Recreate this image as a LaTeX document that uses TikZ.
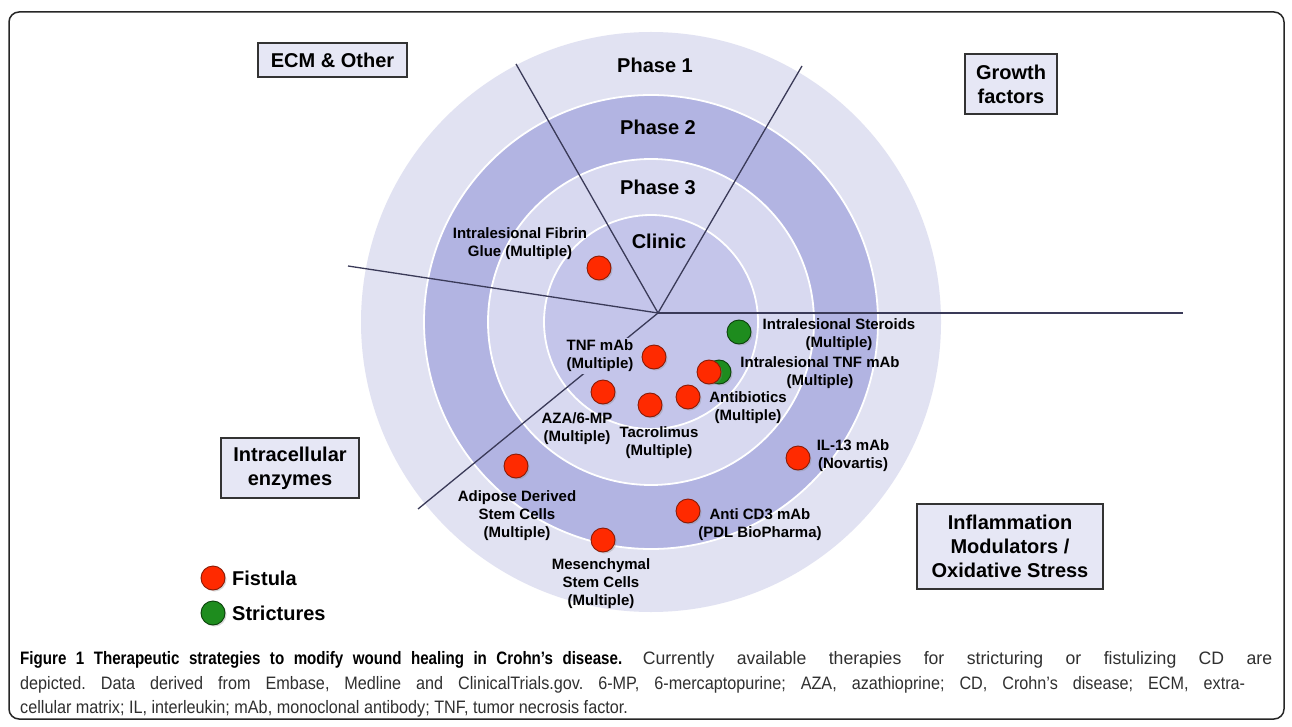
\documentclass[tikz,border=0pt]{standalone}
\usepackage{fontspec}
\setmainfont{Liberation Sans}
\newfontfamily\capfont[FakeStretch=0.9]{Liberation Sans}
\newfontfamily\capwide[FakeStretch=0.98]{Liberation Sans}
\newfontfamily\capbold[FakeStretch=0.84]{Liberation Sans Bold}
\usetikzlibrary{shadows}
\definecolor{ringA}{HTML}{E1E2F2}
\definecolor{ringB}{HTML}{B2B4E2}
\definecolor{ringC}{HTML}{D8D9F0}
\definecolor{ringD}{HTML}{C4C5EA}
\definecolor{boxfill}{HTML}{E6E7F5}
\definecolor{dotred}{HTML}{FF2A00}
\definecolor{dotredb}{HTML}{8A1A05}
\definecolor{dotgreen}{HTML}{1E8C1E}
\definecolor{dotgreenb}{HTML}{0B420B}
\definecolor{spoke}{HTML}{3A3A58}
\definecolor{captxt}{HTML}{303030}
\frenchspacing
\tikzset{
  lbl/.style={align=center, inner sep=1pt, font=\bfseries\fontsize{15}{18}\selectfont},
  phase/.style={inner sep=0, font=\bfseries\fontsize{20}{24}\selectfont},
  catbox/.style={draw=black!80, line width=1.2pt, fill=boxfill, align=center, inner sep=0,
    font=\bfseries\fontsize{20}{24}\selectfont},
  fist/.style={circle, minimum size=24pt, inner sep=0, fill=dotred, draw=dotredb, line width=0.9pt,
    drop shadow={opacity=0.3, shadow xshift=1.5pt, shadow yshift=-1.5pt}},
  strict/.style={circle, minimum size=24pt, inner sep=0, fill=dotgreen, draw=dotgreenb, line width=0.9pt,
    drop shadow={opacity=0.3, shadow xshift=1.5pt, shadow yshift=-1.5pt}},
  spk/.style={draw=spoke, line width=1.3pt},
  capline/.style={anchor=base west, inner sep=0, font=\capfont\fontsize{18}{20}\selectfont\frenchspacing, text=captxt}
}
\begin{document}
\begin{tikzpicture}[x=1pt,y=-1pt]
\useasboundingbox (0,0) rectangle (1292,727);
\fill[white] (0,0) rectangle (1292,727);
\draw[line width=1.5pt, rounded corners=10pt, draw=black!85] (9,12) rectangle (1284,719);

% rings
\coordinate (c) at (651,322);
\fill[ringA] (c) circle[radius=290pt];
\filldraw[fill=ringB, draw=white, line width=1.8pt] (c) circle[radius=227pt];
\filldraw[fill=ringC, draw=white, line width=1.8pt] (c) circle[radius=163pt];
\filldraw[fill=ringD, draw=white, line width=1.8pt] (c) circle[radius=107pt];

% spokes
\coordinate (o) at (658,313);
\coordinate (s1) at (516,64);
\coordinate (s2) at (802,66);
\coordinate (s3) at (348,266);
\coordinate (s4) at (1183,313);
\coordinate (s5) at (418,509);
\draw[spk] (o) -- (s1);
\draw[spk] (o) -- (s2);
\draw[spk] (o) -- (s3);
\draw[spk] (o) -- (s4);
\draw[spk] (o) -- (s5);

% phase labels
\node[phase] (p1) at (655,65) {Phase 1};
\node[phase] (p2) at (658,127) {Phase 2};
\node[phase] (p3) at (658,187) {Phase 3};
\node[phase] (pc) at (659,241) {Clinic};

% category boxes
\node[catbox, minimum width=149pt, minimum height=34pt] (ecm) at (332.5,60) {ECM \& Other};
\node[catbox, minimum width=92pt, minimum height=60pt] (growth) at (1011,84) {Growth\\factors};
\node[catbox, minimum width=138pt, minimum height=60pt] (intra) at (290,468) {Intracellular\\enzymes};
\node[catbox, minimum width=186pt, minimum height=85pt] (infl) at (1010,546.5) {Inflammation\\Modulators /\\Oxidative Stress};

% therapy labels
\node[lbl] (lfib) at (520,243.5) {Intralesional Fibrin\\Glue (Multiple)};
\node[lbl] (lster) at (839,335) {Intralesional Steroids\\(Multiple)};
\node[lbl] (litnf) at (820,372.5) {Intralesional TNF mAb\\(Multiple)};
\node[lbl, fill=ringD, inner sep=2pt] (ltnf) at (600,356) {TNF mAb\\(Multiple)};
\node[lbl] (labx) at (748,408) {Antibiotics\\(Multiple)};
\node[lbl] (laza) at (577,429) {AZA/6-MP\\(Multiple)};
\node[lbl] (ltac) at (659,442.5) {Tacrolimus\\(Multiple)};
\node[lbl] (lil) at (853,455.5) {IL-13 mAb\\(Novartis)};
\node[lbl] (ladi) at (517,516) {Adipose Derived\\Stem Cells\\(Multiple)};
\node[lbl] (lcd3) at (760,525) {Anti CD3 mAb\\(PDL BioPharma)};
\node[lbl] (lmes) at (601,583.5) {Mesenchymal\\Stem Cells\\(Multiple)};

% dots
\node[fist] (dfib) at (599,268) {};
\node[strict] (dster) at (739,332) {};
\node[strict] (ditnfg) at (719,372) {};
\node[fist] (ditnf) at (709,372) {};
\node[fist] (dtnf) at (654,357) {};
\node[fist] (daza) at (603,392) {};
\node[fist] (dtac) at (650,405) {};
\node[fist] (dabx) at (688,397) {};
\node[fist] (dil) at (798,458) {};
\node[fist] (dadi) at (516,466) {};
\node[fist] (dcd3) at (688,511) {};
\node[fist] (dmes) at (603,540) {};

% legend
\node[fist] (legr) at (213,578) {};
\node[strict] (legg) at (213,613) {};
\node[anchor=west, inner sep=0, font=\bfseries\fontsize{20}{24}\selectfont] (legrt) at (232,578) {Fistula};
\node[anchor=west, inner sep=0, font=\bfseries\fontsize{20}{24}\selectfont] (leggt) at (232,613) {Strictures};

% caption
\node[capline] (cap1) at (20,664) {\makebox[1252pt][s]{\makebox[602pt][s]{\capbold\textcolor{black}{Figure 1 Therapeutic strategies to modify wound healing in Crohn’s disease.}} \capwide Currently available therapies for stricturing or fistulizing CD are}};
\node[capline] (cap2) at (20,689) {\makebox[1225pt][s]{depicted. Data derived from Embase, Medline and ClinicalTrials.gov. 6-MP, 6-mercaptopurine; AZA, azathioprine; CD, Crohn’s disease; ECM, extra-}};
\node[capline] (cap3) at (20,713) {cellular matrix; IL, interleukin; mAb, monoclonal antibody; TNF, tumor necrosis factor.};
\end{tikzpicture}
\end{document}
